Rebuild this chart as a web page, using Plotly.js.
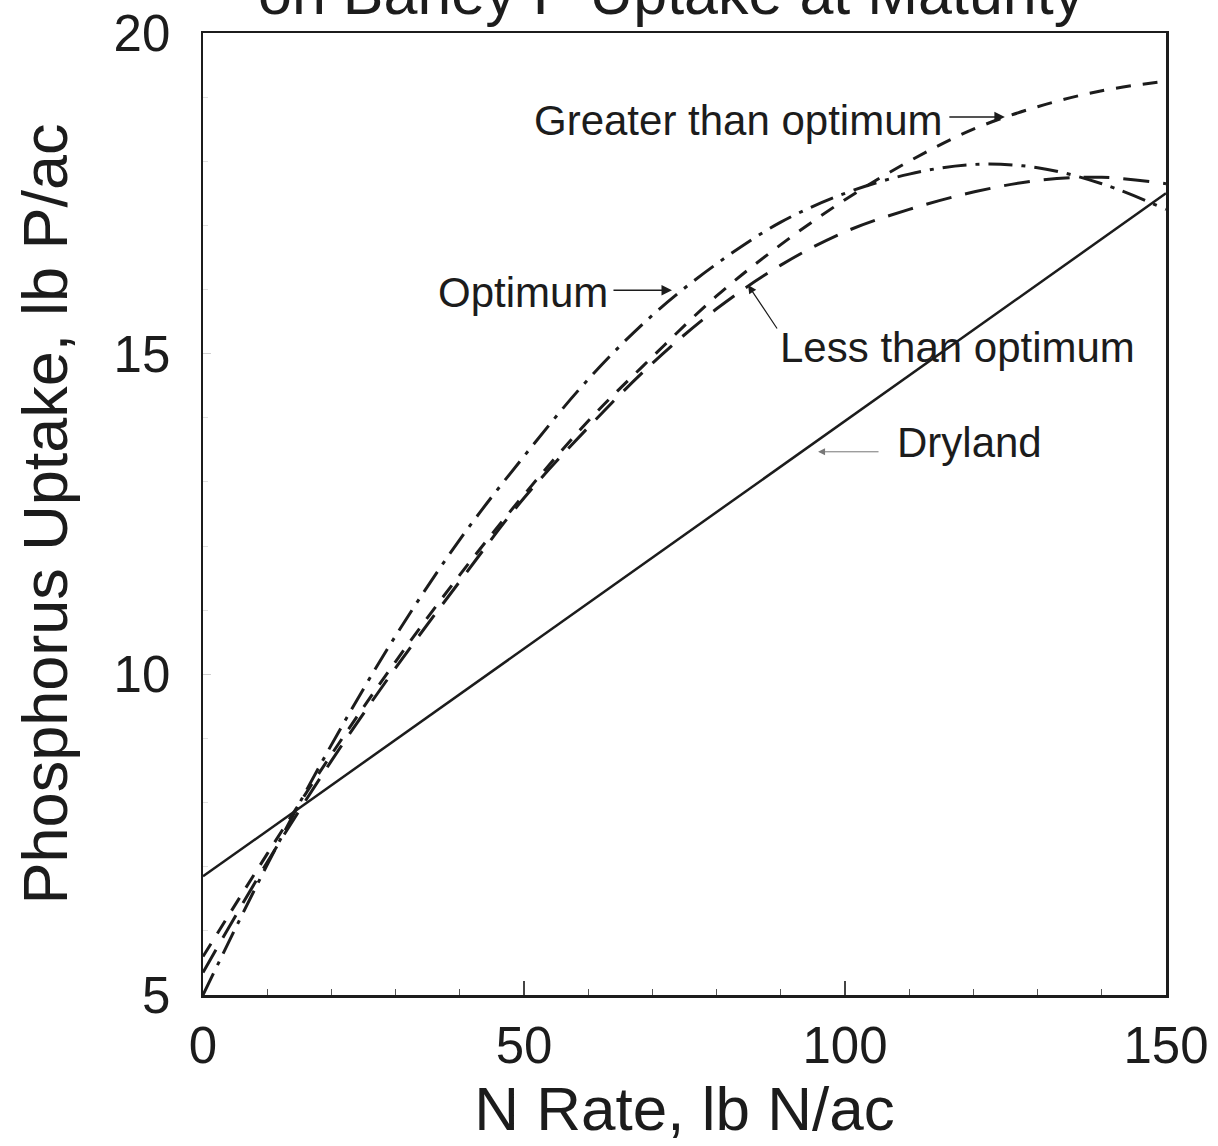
<!DOCTYPE html>
<html>
<head>
<meta charset="utf-8">
<script src="https://cdn.plot.ly/plotly-3.0.1.min.js"></script>
<style>
  html, body { margin: 0; padding: 0; background: #fff; }
  #chart { width: 1218px; height: 1146px; }
</style>
</head>
<body>
<div id="chart"></div>
<script>
// N rate (lb N/ac)
const nRate = [0, 10, 20, 30, 40, 50, 60, 70, 80, 90, 100, 110, 120, 130, 140, 150];
// Phosphorus uptake (lb P/ac)
const optimum = [5.0, 7.03, 8.9, 10.6, 12.1, 13.4, 14.6, 15.6, 16.4, 17.05, 17.5, 17.8, 17.95, 17.9, 17.65, 17.25];
const lessThanOptimum = [5.35, 7.07, 8.65, 10.1, 11.45, 12.75, 13.85, 14.85, 15.7, 16.38, 16.9, 17.25, 17.52, 17.7, 17.75, 17.65];
const greaterThanOptimum = [5.6, 7.2, 8.75, 10.2, 11.55, 12.8, 13.95, 14.95, 15.9, 16.7, 17.4, 18.0, 18.5, 18.85, 19.1, 19.25];
const drylandN = [0, 150];
const dryland = [6.85, 17.5];

const xTicks = [0, 50, 100, 150];
const yTicks = [5, 10, 15, 20];

const ink = '#1c1c1c';
const FONT = 'Liberation Sans, Arial, sans-serif';

const traces = [
  { x: drylandN, y: dryland, name: 'Dryland', mode: 'lines',
    line: { color: ink, width: 2.5 } },
  { x: nRate, y: optimum, name: 'Optimum', mode: 'lines',
    line: { color: ink, width: 3, dash: '24px,9px,4px,9px', shape: 'spline' } },
  { x: nRate, y: lessThanOptimum, name: 'Less than optimum', mode: 'lines',
    line: { color: ink, width: 3, dash: '26px,14px', shape: 'spline' } },
  { x: nRate, y: greaterThanOptimum, name: 'Greater than optimum', mode: 'lines',
    line: { color: ink, width: 3, dash: '15px,12px', shape: 'spline' } }
];

const labelFont = { family: FONT, size: 42, color: ink };

const annotations = [
  // title, clipped at the top edge as in the scanned figure
  { text: 'on Barley P Uptake at Maturity', xref: 'paper', yref: 'paper',
    x: 0.486, y: 1.004, xanchor: 'center', yanchor: 'bottom', showarrow: false,
    font: { family: FONT, size: 61, color: ink } },
  // labels
  { text: 'Greater than optimum', x: 115.6, y: 18.64, xanchor: 'right', yanchor: 'middle',
    showarrow: false, font: labelFont },
  { text: 'Optimum', x: 63.4, y: 15.95, xanchor: 'right', yanchor: 'middle',
    showarrow: false, font: labelFont },
  { text: 'Less than optimum', x: 89.6, y: 15.1, xanchor: 'left', yanchor: 'middle',
    showarrow: false, font: labelFont },
  { text: 'Dryland', x: 107.8, y: 13.62, xanchor: 'left', yanchor: 'middle',
    showarrow: false, font: labelFont },
  // arrows
  { text: '', x: 124.9, y: 18.69, ax: -57, ay: 0, showarrow: true,
    arrowhead: 2, arrowsize: 1.4, arrowwidth: 1.5, arrowcolor: ink },
  { text: '', x: 73.05, y: 15.99, ax: -60, ay: 0, showarrow: true,
    arrowhead: 2, arrowsize: 1.4, arrowwidth: 1.5, arrowcolor: ink },
  { text: '', x: 84.9, y: 16.07, ax: 30, ay: 45, showarrow: true,
    arrowhead: 2, arrowsize: 1.4, arrowwidth: 1.2, arrowcolor: ink },
  { text: '', x: 95.8, y: 13.47, ax: 62, ay: 0, showarrow: true,
    arrowhead: 2, arrowsize: 1.4, arrowwidth: 1, arrowcolor: '#777' }
];

const layout = {
  width: 1218, height: 1146,
  margin: { l: 203, r: 52, t: 33, b: 151 },
  paper_bgcolor: '#fff', plot_bgcolor: '#fff',
  showlegend: false,
  font: { family: FONT, color: ink },
  xaxis: {
    range: [0, 150], tickvals: xTicks, ticktext: xTicks.map(String),
    ticks: 'inside', ticklen: 14, tickwidth: 1.5, tickcolor: '#444',
    minor: { dtick: 10, ticks: 'inside', ticklen: 6, tickwidth: 1.2, tickcolor: '#555' },
    showline: true, linewidth: 2.5, linecolor: ink, mirror: true,
    showgrid: false, zeroline: false,
    tickfont: { family: FONT, size: 51, color: ink },
    ticklabelstandoff: 4,
    title: { text: 'N Rate, lb N/ac', font: { family: FONT, size: 62, color: ink }, standoff: 10 }
  },
  yaxis: {
    range: [5, 20], tickvals: yTicks, ticktext: yTicks.map(String),
    ticks: 'inside', ticklen: 8, tickwidth: 1, tickcolor: '#d0d0d0',
    minor: { dtick: 1, ticks: 'inside', ticklen: 5, tickwidth: 1, tickcolor: '#e0e0e0' },
    showline: true, linewidth: 2.5, linecolor: ink, mirror: true,
    showgrid: false, zeroline: false,
    tickfont: { family: FONT, size: 51, color: ink },
    ticklabelstandoff: 20,
    title: { text: 'Phosphorus Uptake, lb P/ac', font: { family: FONT, size: 63, color: ink }, standoff: 26 }
  },
  annotations: annotations
};

Plotly.newPlot('chart', traces, layout, { staticPlot: true, displayModeBar: false });
</script>
</body>
</html>
